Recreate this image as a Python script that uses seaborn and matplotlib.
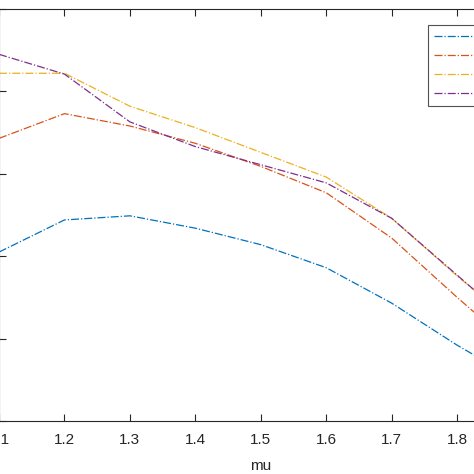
import matplotlib
matplotlib.use("Agg")
import matplotlib.pyplot as plt
import seaborn as sns
import pandas as pd

mu = [1.1, 1.2, 1.3, 1.4, 1.5, 1.6, 1.7, 1.8, 1.9]
series_names = ["Case 1", "Case 2", "Case 3", "Case 4"]
blue_vals = [0.705, 0.744, 0.749, 0.734, 0.714, 0.686, 0.643, 0.592, 0.546]
red_vals = [0.843, 0.873, 0.858, 0.837, 0.809, 0.777, 0.722, 0.650, 0.581]
yellow_vals = [0.922, 0.922, 0.882, 0.856, 0.826, 0.796, 0.746, 0.676, 0.610]
purple_vals = [0.945, 0.921, 0.863, 0.833, 0.811, 0.789, 0.746, 0.677, 0.608]
colors = ["#0072BD", "#D95319", "#EDB120", "#7E2F8E"]
yticks = [0.5, 0.6, 0.7, 0.8, 0.9, 1.0]
xticks = [1.1, 1.2, 1.3, 1.4, 1.5, 1.6, 1.7, 1.8, 1.9]

sns.set_style("ticks")
plt.rcParams["font.family"] = ["Liberation Sans", "DejaVu Sans"]

fig = plt.figure(figsize=(4.74, 4.74), dpi=100)
W = H = 474.0
left_px, right_px, top_px, bot_px = -1.0, 522.6, 9.0, 421.0
ax = fig.add_axes([left_px / W, 1 - bot_px / H, (right_px - left_px) / W, (bot_px - top_px) / H])

all_vals = [blue_vals, red_vals, yellow_vals, purple_vals]
for name, vals, c in zip(series_names, all_vals, colors):
    df = pd.DataFrame({"mu": mu, "value": vals})
    sns.lineplot(data=df, x="mu", y="value", ax=ax, color=c, linestyle="-.",
                 linewidth=0.9, label=name)

ax.set_xlim(1.1, 1.9)
ax.set_ylim(0.5, 1.0)
ax.set_xticks(xticks)
ax.set_xticklabels([f"{t:g}" for t in xticks])
ax.set_yticks(yticks)
ax.set_yticklabels([f"{t:g}" for t in yticks])
ax.set_xlabel("mu", fontsize=11, color="#262626", labelpad=8)
ax.set_ylabel("")
for s in ax.spines.values():
    s.set_visible(True)
    s.set_color("#262626")
    s.set_linewidth(0.8)
ax.tick_params(direction="in", length=5, width=0.8, top=True, right=True,
               labelsize=11, colors="#262626", pad=9)

leg = ax.legend(loc="upper left", bbox_to_anchor=(0.8193, 0.961), frameon=True,
                fancybox=False, fontsize=9, handlelength=4.5, labelspacing=0.55,
                borderpad=0.5, borderaxespad=0.0, edgecolor="#262626")
leg.get_frame().set_linewidth(0.8)

fig.savefig("out.png", dpi=100)
